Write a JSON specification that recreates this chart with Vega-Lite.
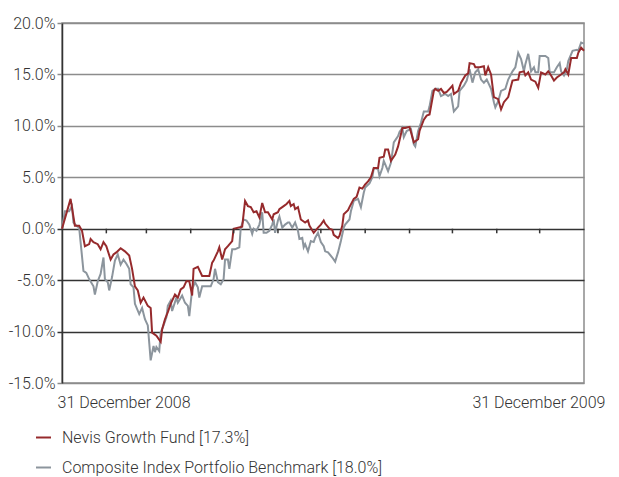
{
  "$schema": "https://vega.github.io/schema/vega-lite/v6.json",
  "width": 522,
  "height": 360,
  "autosize": {"type": "none"},
  "padding": {"left": 62, "top": 23, "right": 35, "bottom": 94},
  "background": "white",
  "config": {
    "font": "Roboto",
    "view": {"stroke": "#8c8c8c", "strokeWidth": 1.5},
    "axis": {"labelFont": "Roboto", "labelColor": "#333333", "labelFontSize": 16, "labelFontWeight": 300}
  },
  "datasets": {
    "months": [{"d": 31}, {"d": 59}, {"d": 90}, {"d": 120}, {"d": 151}, {"d": 181}, {"d": 212}, {"d": 243}, {"d": 273}, {"d": 304}, {"d": 334}],
    "series": [
      {"s":"fund","d":0,"v":0},{"s":"fund","d":6,"v":2.9},{"s":"fund","d":9,"v":0.3},{"s":"fund","d":12,"v":0.3},{"s":"fund","d":14,"v":-0.2},{"s":"fund","d":16,"v":-1.7},{"s":"fund","d":19,"v":-1.5},{"s":"fund","d":20,"v":-1.0},{"s":"fund","d":22,"v":-1.3},{"s":"fund","d":25,"v":-1.5},{"s":"fund","d":27,"v":-2.0},{"s":"fund","d":29,"v":-1.3},{"s":"fund","d":31,"v":-1.7},{"s":"fund","d":34,"v":-3.0},{"s":"fund","d":36,"v":-2.5},{"s":"fund","d":38,"v":-2.3},{"s":"fund","d":41,"v":-1.9},{"s":"fund","d":44,"v":-2.2},{"s":"fund","d":47,"v":-2.6},{"s":"fund","d":49,"v":-3.9},{"s":"fund","d":51,"v":-5.6},{"s":"fund","d":53,"v":-6.0},{"s":"fund","d":55,"v":-7.2},{"s":"fund","d":57,"v":-6.7},{"s":"fund","d":60,"v":-7.5},{"s":"fund","d":62,"v":-7.7},{"s":"fund","d":63,"v":-10.1},{"s":"fund","d":66,"v":-10.4},{"s":"fund","d":69,"v":-11.0},{"s":"fund","d":70,"v":-9.8},{"s":"fund","d":72,"v":-8.8},{"s":"fund","d":74,"v":-8.1},{"s":"fund","d":76,"v":-7.3},{"s":"fund","d":79,"v":-6.4},{"s":"fund","d":81,"v":-6.7},{"s":"fund","d":83,"v":-5.9},{"s":"fund","d":85,"v":-5.7},{"s":"fund","d":87,"v":-5.1},{"s":"fund","d":89,"v":-5.1},{"s":"fund","d":91,"v":-6.5},{"s":"fund","d":92,"v":-3.9},{"s":"fund","d":95,"v":-3.7},{"s":"fund","d":98,"v":-4.6},{"s":"fund","d":103,"v":-4.6},{"s":"fund","d":105,"v":-3.3},{"s":"fund","d":106,"v":-3.1},{"s":"fund","d":109,"v":-2.2},{"s":"fund","d":110,"v":-1.8},{"s":"fund","d":112,"v":-3.0},{"s":"fund","d":114,"v":-2.0},{"s":"fund","d":116,"v":-1.7},{"s":"fund","d":119,"v":-1.2},{"s":"fund","d":120,"v":0.0},{"s":"fund","d":126,"v":0.2},{"s":"fund","d":128,"v":2.7},{"s":"fund","d":130,"v":2.2},{"s":"fund","d":132,"v":2.1},{"s":"fund","d":134,"v":1.6},{"s":"fund","d":136,"v":1.7},{"s":"fund","d":138,"v":1.1},{"s":"fund","d":140,"v":2.5},{"s":"fund","d":142,"v":1.6},{"s":"fund","d":144,"v":1.6},{"s":"fund","d":147,"v":0.9},{"s":"fund","d":148,"v":1.4},{"s":"fund","d":151,"v":1.6},{"s":"fund","d":152,"v":1.9},{"s":"fund","d":155,"v":2.2},{"s":"fund","d":157,"v":2.4},{"s":"fund","d":159,"v":2.7},{"s":"fund","d":160,"v":2.2},{"s":"fund","d":162,"v":2.4},{"s":"fund","d":163,"v":1.9},{"s":"fund","d":165,"v":2.1},{"s":"fund","d":167,"v":0.9},{"s":"fund","d":170,"v":0.6},{"s":"fund","d":172,"v":0.8},{"s":"fund","d":173,"v":0.3},{"s":"fund","d":176,"v":-0.4},{"s":"fund","d":179,"v":0.1},{"s":"fund","d":181,"v":0.4},{"s":"fund","d":183,"v":0.8},{"s":"fund","d":184,"v":0.5},{"s":"fund","d":187,"v":0.0},{"s":"fund","d":189,"v":-0.1},{"s":"fund","d":190,"v":-0.6},{"s":"fund","d":193,"v":-0.9},{"s":"fund","d":194,"v":-0.7},{"s":"fund","d":196,"v":0.3},{"s":"fund","d":197,"v":1.4},{"s":"fund","d":200,"v":1.8},{"s":"fund","d":201,"v":2.1},{"s":"fund","d":204,"v":2.9},{"s":"fund","d":206,"v":3.1},{"s":"fund","d":208,"v":4.0},{"s":"fund","d":210,"v":3.9},{"s":"fund","d":212,"v":4.3},{"s":"fund","d":214,"v":4.6},{"s":"fund","d":216,"v":5.0},{"s":"fund","d":218,"v":5.9},{"s":"fund","d":221,"v":5.9},{"s":"fund","d":222,"v":6.9},{"s":"fund","d":225,"v":7.0},{"s":"fund","d":226,"v":7.7},{"s":"fund","d":228,"v":7.7},{"s":"fund","d":230,"v":6.6},{"s":"fund","d":233,"v":7.2},{"s":"fund","d":235,"v":8.0},{"s":"fund","d":238,"v":9.8},{"s":"fund","d":240,"v":9.8},{"s":"fund","d":243,"v":9.9},{"s":"fund","d":246,"v":8.4},{"s":"fund","d":249,"v":8.7},{"s":"fund","d":250,"v":9.5},{"s":"fund","d":253,"v":10.6},{"s":"fund","d":255,"v":11.0},{"s":"fund","d":257,"v":11.1},{"s":"fund","d":260,"v":13.4},{"s":"fund","d":261,"v":13.6},{"s":"fund","d":263,"v":13.4},{"s":"fund","d":265,"v":13.6},{"s":"fund","d":267,"v":13.2},{"s":"fund","d":269,"v":13.3},{"s":"fund","d":271,"v":13.6},{"s":"fund","d":273,"v":13.9},{"s":"fund","d":274,"v":13.1},{"s":"fund","d":277,"v":13.4},{"s":"fund","d":279,"v":14.2},{"s":"fund","d":282,"v":14.9},{"s":"fund","d":284,"v":15.1},{"s":"fund","d":285,"v":16.1},{"s":"fund","d":288,"v":16.0},{"s":"fund","d":289,"v":15.7},{"s":"fund","d":292,"v":15.7},{"s":"fund","d":295,"v":15.8},{"s":"fund","d":296,"v":14.9},{"s":"fund","d":298,"v":15.7},{"s":"fund","d":300,"v":15.0},{"s":"fund","d":302,"v":12.8},{"s":"fund","d":305,"v":12.6},{"s":"fund","d":307,"v":11.6},{"s":"fund","d":309,"v":12.3},{"s":"fund","d":312,"v":12.8},{"s":"fund","d":315,"v":14.4},{"s":"fund","d":319,"v":14.5},{"s":"fund","d":320,"v":15.2},{"s":"fund","d":323,"v":15.3},{"s":"fund","d":324,"v":14.9},{"s":"fund","d":326,"v":15.2},{"s":"fund","d":328,"v":14.5},{"s":"fund","d":331,"v":14.3},{"s":"fund","d":333,"v":13.7},{"s":"fund","d":335,"v":15.2},{"s":"fund","d":338,"v":15.0},{"s":"fund","d":340,"v":15.3},{"s":"fund","d":342,"v":14.9},{"s":"fund","d":344,"v":14.4},{"s":"fund","d":346,"v":14.7},{"s":"fund","d":348,"v":14.9},{"s":"fund","d":351,"v":15.2},{"s":"fund","d":352,"v":15.5},{"s":"fund","d":354,"v":15.0},{"s":"fund","d":356,"v":16.6},{"s":"fund","d":360,"v":16.6},{"s":"fund","d":361,"v":17.1},{"s":"fund","d":363,"v":17.6},{"s":"fund","d":365,"v":17.3},
      {"s":"bench","d":0,"v":0},{"s":"bench","d":2,"v":1.7},{"s":"bench","d":5,"v":1.7},{"s":"bench","d":7,"v":2.2},{"s":"bench","d":8,"v":0.6},{"s":"bench","d":10,"v":0.3},{"s":"bench","d":12,"v":0.1},{"s":"bench","d":13,"v":-1.3},{"s":"bench","d":15,"v":-4.1},{"s":"bench","d":17,"v":-4.3},{"s":"bench","d":19,"v":-4.9},{"s":"bench","d":22,"v":-5.6},{"s":"bench","d":23,"v":-6.4},{"s":"bench","d":25,"v":-5.1},{"s":"bench","d":27,"v":-4.4},{"s":"bench","d":29,"v":-2.8},{"s":"bench","d":30,"v":-4.9},{"s":"bench","d":32,"v":-5.2},{"s":"bench","d":33,"v":-6.0},{"s":"bench","d":35,"v":-4.7},{"s":"bench","d":37,"v":-3.1},{"s":"bench","d":39,"v":-2.5},{"s":"bench","d":41,"v":-3.5},{"s":"bench","d":43,"v":-3.0},{"s":"bench","d":45,"v":-3.4},{"s":"bench","d":47,"v":-3.9},{"s":"bench","d":48,"v":-5.4},{"s":"bench","d":50,"v":-5.7},{"s":"bench","d":51,"v":-7.3},{"s":"bench","d":54,"v":-8.3},{"s":"bench","d":56,"v":-7.7},{"s":"bench","d":58,"v":-8.8},{"s":"bench","d":60,"v":-9.4},{"s":"bench","d":62,"v":-12.8},{"s":"bench","d":64,"v":-11.4},{"s":"bench","d":65,"v":-12.0},{"s":"bench","d":66,"v":-11.5},{"s":"bench","d":68,"v":-11.9},{"s":"bench","d":69,"v":-10.1},{"s":"bench","d":71,"v":-9.4},{"s":"bench","d":73,"v":-8.6},{"s":"bench","d":74,"v":-7.5},{"s":"bench","d":76,"v":-7.0},{"s":"bench","d":77,"v":-8.0},{"s":"bench","d":80,"v":-6.7},{"s":"bench","d":81,"v":-7.2},{"s":"bench","d":84,"v":-6.5},{"s":"bench","d":86,"v":-7.2},{"s":"bench","d":88,"v":-7.5},{"s":"bench","d":89,"v":-8.5},{"s":"bench","d":91,"v":-5.9},{"s":"bench","d":93,"v":-5.2},{"s":"bench","d":95,"v":-5.7},{"s":"bench","d":96,"v":-6.7},{"s":"bench","d":98,"v":-5.6},{"s":"bench","d":104,"v":-5.6},{"s":"bench","d":106,"v":-4.9},{"s":"bench","d":107,"v":-3.9},{"s":"bench","d":109,"v":-5.2},{"s":"bench","d":111,"v":-5.4},{"s":"bench","d":113,"v":-4.9},{"s":"bench","d":114,"v":-3.0},{"s":"bench","d":116,"v":-3.0},{"s":"bench","d":117,"v":-3.9},{"s":"bench","d":119,"v":-2.0},{"s":"bench","d":121,"v":-2.0},{"s":"bench","d":124,"v":-1.8},{"s":"bench","d":125,"v":0.1},{"s":"bench","d":127,"v":0.9},{"s":"bench","d":129,"v":0.8},{"s":"bench","d":131,"v":0.4},{"s":"bench","d":133,"v":-0.5},{"s":"bench","d":134,"v":0.0},{"s":"bench","d":136,"v":-0.2},{"s":"bench","d":138,"v":0.4},{"s":"bench","d":140,"v":1.6},{"s":"bench","d":141,"v":-0.4},{"s":"bench","d":143,"v":-0.4},{"s":"bench","d":145,"v":-0.2},{"s":"bench","d":147,"v":0.4},{"s":"bench","d":148,"v":0.9},{"s":"bench","d":149,"v":-0.4},{"s":"bench","d":151,"v":0.8},{"s":"bench","d":152,"v":1.2},{"s":"bench","d":154,"v":0.1},{"s":"bench","d":156,"v":0.4},{"s":"bench","d":158,"v":0.6},{"s":"bench","d":159,"v":0.6},{"s":"bench","d":161,"v":0.1},{"s":"bench","d":163,"v":0.6},{"s":"bench","d":165,"v":-0.2},{"s":"bench","d":166,"v":-1.0},{"s":"bench","d":168,"v":-0.9},{"s":"bench","d":169,"v":-1.8},{"s":"bench","d":170,"v":-1.5},{"s":"bench","d":172,"v":-2.2},{"s":"bench","d":174,"v":-1.2},{"s":"bench","d":176,"v":-1.3},{"s":"bench","d":177,"v":-0.9},{"s":"bench","d":179,"v":-0.4},{"s":"bench","d":181,"v":-1.3},{"s":"bench","d":183,"v":-1.7},{"s":"bench","d":184,"v":-2.2},{"s":"bench","d":186,"v":-2.3},{"s":"bench","d":189,"v":-2.8},{"s":"bench","d":191,"v":-3.2},{"s":"bench","d":193,"v":-2.3},{"s":"bench","d":195,"v":-1.2},{"s":"bench","d":197,"v":0.1},{"s":"bench","d":198,"v":0.4},{"s":"bench","d":201,"v":0.9},{"s":"bench","d":202,"v":1.7},{"s":"bench","d":204,"v":2.7},{"s":"bench","d":207,"v":2.9},{"s":"bench","d":209,"v":2.1},{"s":"bench","d":211,"v":3.5},{"s":"bench","d":212,"v":4.0},{"s":"bench","d":215,"v":4.4},{"s":"bench","d":217,"v":5.0},{"s":"bench","d":218,"v":5.9},{"s":"bench","d":221,"v":5.8},{"s":"bench","d":222,"v":5.1},{"s":"bench","d":224,"v":5.9},{"s":"bench","d":225,"v":6.6},{"s":"bench","d":228,"v":5.6},{"s":"bench","d":230,"v":6.4},{"s":"bench","d":232,"v":8.4},{"s":"bench","d":235,"v":9.0},{"s":"bench","d":236,"v":9.4},{"s":"bench","d":238,"v":9.8},{"s":"bench","d":239,"v":8.9},{"s":"bench","d":241,"v":9.5},{"s":"bench","d":244,"v":9.7},{"s":"bench","d":246,"v":8.2},{"s":"bench","d":247,"v":8.0},{"s":"bench","d":249,"v":9.5},{"s":"bench","d":251,"v":10.3},{"s":"bench","d":253,"v":11.4},{"s":"bench","d":256,"v":11.4},{"s":"bench","d":257,"v":11.9},{"s":"bench","d":259,"v":13.4},{"s":"bench","d":261,"v":13.6},{"s":"bench","d":263,"v":13.6},{"s":"bench","d":265,"v":12.9},{"s":"bench","d":268,"v":13.1},{"s":"bench","d":270,"v":12.9},{"s":"bench","d":272,"v":13.1},{"s":"bench","d":274,"v":11.4},{"s":"bench","d":277,"v":11.9},{"s":"bench","d":278,"v":13.4},{"s":"bench","d":281,"v":13.9},{"s":"bench","d":283,"v":14.4},{"s":"bench","d":285,"v":15.5},{"s":"bench","d":287,"v":14.2},{"s":"bench","d":289,"v":15.2},{"s":"bench","d":291,"v":15.5},{"s":"bench","d":293,"v":14.5},{"s":"bench","d":295,"v":14.2},{"s":"bench","d":297,"v":14.5},{"s":"bench","d":298,"v":14.2},{"s":"bench","d":300,"v":13.6},{"s":"bench","d":302,"v":12.3},{"s":"bench","d":303,"v":11.8},{"s":"bench","d":305,"v":12.4},{"s":"bench","d":307,"v":13.4},{"s":"bench","d":310,"v":13.6},{"s":"bench","d":312,"v":14.5},{"s":"bench","d":315,"v":15.3},{"s":"bench","d":317,"v":15.7},{"s":"bench","d":319,"v":17.1},{"s":"bench","d":321,"v":16.5},{"s":"bench","d":323,"v":15.3},{"s":"bench","d":324,"v":16.0},{"s":"bench","d":326,"v":17.0},{"s":"bench","d":328,"v":15.3},{"s":"bench","d":330,"v":15.7},{"s":"bench","d":331,"v":15.2},{"s":"bench","d":333,"v":15.2},{"s":"bench","d":334,"v":16.8},{"s":"bench","d":338,"v":16.8},{"s":"bench","d":340,"v":16.6},{"s":"bench","d":341,"v":15.2},{"s":"bench","d":344,"v":15.2},{"s":"bench","d":346,"v":15.7},{"s":"bench","d":348,"v":16.1},{"s":"bench","d":349,"v":15.3},{"s":"bench","d":351,"v":14.9},{"s":"bench","d":353,"v":15.5},{"s":"bench","d":354,"v":16.3},{"s":"bench","d":357,"v":17.3},{"s":"bench","d":360,"v":17.4},{"s":"bench","d":361,"v":17.3},{"s":"bench","d":363,"v":18.1},{"s":"bench","d":365,"v":18.0}
    ]
  },
  "layer": [
    {
      "data": {"name": "series"},
      "transform": [{"filter": "datum.s == 'bench'"}],
      "mark": {"type": "line", "strokeWidth": 2, "interpolate": "linear"},
      "encoding": {
        "x": {
          "field": "d", "type": "quantitative",
          "scale": {"domain": [0, 365], "nice": false, "zero": false},
          "axis": {
            "title": null, "values": [0, 365], "grid": false, "ticks": false, "domain": false,
            "labelPadding": 11, "labelFlush": false,
            "labelExpr": "datum.value == 0 ? '31 December 2008' : '31 December 2009'",
            "labelAlign": {"condition": {"test": "datum.value == 0", "value": "left"}, "value": "right"},
            "labelOffset": {"condition": {"test": "datum.value == 0", "value": -5}, "value": 21}
          }
        },
        "y": {
          "field": "v", "type": "quantitative",
          "scale": {"domain": [-15, 20], "nice": false, "zero": false},
          "axis": {
            "title": null, "values": [-15, -10, -5, 0, 5, 10, 15, 20],
            "labelExpr": "(datum.value < 0 ? '-' : '') + format(abs(datum.value), '.1f') + '%'",
            "grid": true, "gridWidth": 1.5,
            "gridColor": {"condition": {"test": "datum.value > 0 || datum.value <= -15", "value": "#8c8c8c"}, "value": "#333333"},
            "tickColor": {"condition": {"test": "datum.value > 0 || datum.value <= -15", "value": "#8c8c8c"}, "value": "#333333"},
            "tickWidth": 1.5, "tickSize": 5, "labelPadding": 2,
            "domainColor": "#333333", "domainWidth": 1.5
          }
        },
        "color": {
          "field": "s", "type": "nominal",
          "scale": {"domain": ["fund", "bench"], "range": ["#962a2c", "#8c959d"]},
          "legend": {
            "title": null, "orient": "none", "legendX": -27, "legendY": 406,
            "direction": "vertical", "symbolType": "stroke", "symbolSize": 225, "symbolStrokeWidth": 2,
            "labelFont": "Roboto", "labelFontSize": 16, "labelFontWeight": 300, "labelColor": "#333333", "labelOffset": 10,
            "rowPadding": 13, "labelLimit": 500,
            "labelExpr": "datum.value == 'fund' ? 'Nevis Growth Fund [17.3%]' : 'Composite Index Portfolio Benchmark [18.0%]'"
          }
        }
      }
    },
    {
      "data": {"name": "series"},
      "transform": [{"filter": "datum.s == 'fund'"}],
      "mark": {"type": "line", "strokeWidth": 2, "interpolate": "linear"},
      "encoding": {
        "x": {"field": "d", "type": "quantitative"},
        "y": {"field": "v", "type": "quantitative"},
        "color": {"field": "s", "type": "nominal"}
      }
    },
    {
      "data": {"name": "months"},
      "mark": {"type": "rule", "color": "#333333", "strokeWidth": 1.5},
      "encoding": {
        "x": {"field": "d", "type": "quantitative"},
        "y": {"datum": 0},
        "y2": {"datum": -0.45}
      }
    }
  ]
}
